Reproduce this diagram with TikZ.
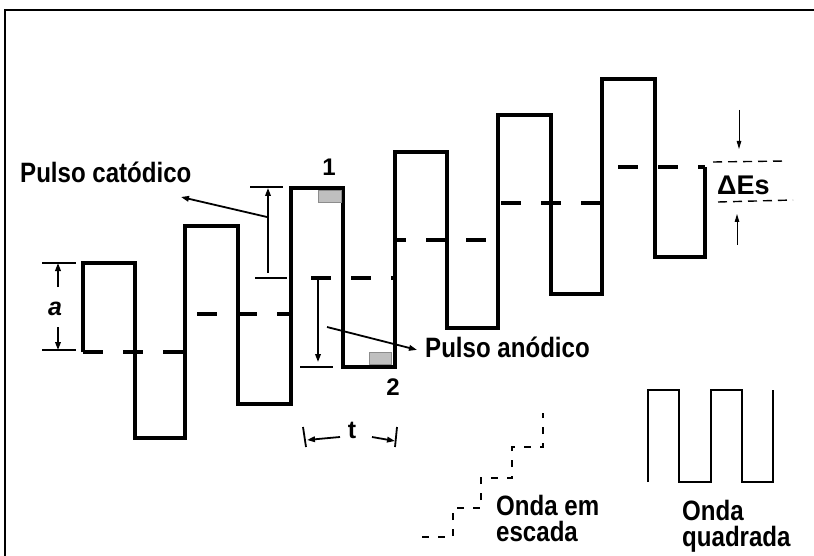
\documentclass[tikz,border=0pt]{standalone}
\usepackage{fontspec}
\setmainfont{Liberation Sans}
\newfontfamily\lblfont[FakeStretch=0.86]{Liberation Sans}
\usetikzlibrary{arrows.meta}
\usetikzlibrary{positioning}

\tikzset{
  wave/.style={line width=3.2pt},
  stair/.style={line width=3.2pt, dash pattern=on 20pt off 20pt},
  dimline/.style={line width=1.8pt},
  dimarrow/.style={line width=1.8pt, -{Triangle[length=8pt,width=5.5pt]}},
  thinarrow/.style={line width=1pt, -{Triangle[length=8pt,width=4.5pt]}},
  thindash/.style={line width=1.4pt, dash pattern=on 9pt off 6pt},
  smallstair/.style={line width=1.2pt, dash pattern=on 7pt off 9pt},
  smallsq/.style={line width=1.3pt},
  marker/.style={draw=gray!90, fill=gray!50, line width=1pt},
  lbl/.style={font=\lblfont\fontsize{28}{26.5}\selectfont\bfseries, inner sep=0pt},
  num/.style={font=\fontsize{24}{26}\selectfont\bfseries, inner sep=0pt},
}

\begin{document}
\begin{tikzpicture}[x=1pt,y=-1pt]
  \useasboundingbox (0,0) rectangle (814,556);
  % frame
  \draw[line width=2pt] (5,556) -- (5,10) -- (814,10);

  % square wave riding on the staircase
  \draw[wave] (83,352) |- (135,263) |- (185,438) |- (238,226) |- (291,404)
    |- (343,188) |- (395,367) |- (447,152) |- (498,328) |- (551,115)
    |- (602,294) |- (655,79) |- (705,257) -- (705,167);
  % staircase levels
  \foreach \xa/\xb/\y/\ph in {83/185/352/0, 185/291/314/28, 291/395/278/20,
                             395/498/240/9, 498/602/203/37, 602/705/167/24}
    \draw[stair, dash phase=\ph pt] (\xa,\y) -- (\xb,\y);

  % sampling marks
  \draw[marker] (318,191) rectangle (341,203);
  \draw[marker] (369,352) rectangle (391,364);
  \node[num] (one) at (329,167) {1};
  \node[num] (two) at (393,387) {2};

  % amplitude a
  \coordinate (atop) at (58,263);
  \coordinate (abot) at (58,350);
  \draw[dimline] (42,263) -- (76,263);
  \draw[dimline] (42,350) -- (76,350);
  \node[num, font=\fontsize{25}{26}\selectfont\bfseries\itshape] (amp) at (55,309) {a};
  \draw[dimarrow] (58,287) -- (atop);
  \draw[dimarrow] (58,327) -- (abot);

  % cathodic pulse
  \node[lbl, anchor=base west] (catodico) at (20,183) {Pulso catódico};
  \coordinate (ctip) at (181,197);
  \coordinate (cfoot) at (267,217);
  \draw[dimline] (250,187) -- (283,187);
  \draw[dimline] (255,278) -- (287,278);
  \draw[dimarrow] (268,273) -- (268,188);
  \draw[dimarrow] (cfoot) -- (ctip);

  % anodic pulse
  \node[lbl, anchor=base west] (anodico) at (425,357) {Pulso anódico};
  \coordinate (afoot) at (327,327);
  \draw[dimline] (300,367) -- (333,367);
  \draw[dimarrow] (318,279) -- (318,362);
  \draw[dimarrow] (afoot) -- ([xshift=-8pt,yshift=-3pt]anodico.west);

  % period t
  \node[num, font=\fontsize{25}{26}\selectfont\bfseries] (per) at (352,430) {t};
  \draw[dimline] (303,427) -- (306,447);
  \draw[dimline] (397,427) -- (395,447);
  \draw[dimarrow] (340,437) -- (307,440);
  \draw[dimarrow] (372,437) -- (395,441);

  % step height
  \node[num, font=\fontsize{27}{28}\selectfont\bfseries, anchor=base west] (des) at (717,195) {ΔEs};
  \draw[thindash] (713,162) -- (785,161);
  \draw[thindash] (718,202) -- (793,200);
  \draw[thinarrow] (739,110) -- (739,149);
  \draw[thinarrow] (737,245) -- (737,214);

  % small sketches
  \draw[smallstair] (422,537) -| (453,508) -| (481,478) -| (512,447) -| (543,413);
  \draw[smallsq] (648,482) |- (679,390) |- (711,482) |- (742,390) |- (773,482) -- (773,390);
  \node[lbl, anchor=north west, align=left] (escada) at (496,495) {Onda em\\escada};
  \node[lbl, anchor=north west, align=left] (quadrada) at (682,500) {Onda\\quadrada};
\end{tikzpicture}
\end{document}
